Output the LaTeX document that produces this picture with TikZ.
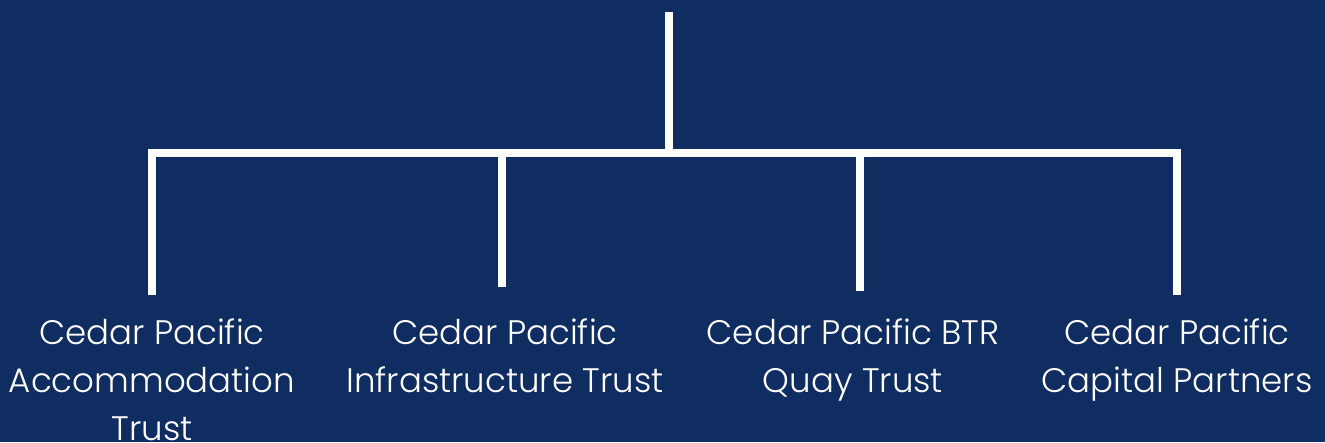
\documentclass[tikz,border=0pt]{standalone}
\usepackage{fontspec}
\setmainfont{Poppins Light}
\definecolor{navy}{HTML}{102D62}
\tikzset{
  trunk/.style={draw=white,line width=7.7pt},
  entity/.style={text=white,align=center,anchor=base,inner sep=0pt,font=\fontsize{34}{48}\selectfont}
}
\begin{document}
\begin{tikzpicture}[x=1pt,y=-1pt]
\fill[navy] (0,0) rectangle (1325,442);
\useasboundingbox (0,0) rectangle (1325,442);
\coordinate (top) at (669,12);
\coordinate (mid) at (669,153);
\coordinate (barL) at (148,153);
\coordinate (barR) at (1181,153);
\draw[trunk] (top)--(mid);
\draw[trunk] (barL)--(barR);
% base anchor sits on the last line
\node[entity] (accom) at (152,440) {Cedar Pacific\\Accommodation\\Trust};
\node[entity] (infra) at (505,392) {Cedar Pacific\\Infrastructure Trust};
\node[entity] (btr) at (853,392) {Cedar Pacific BTR\\Quay Trust};
\node[entity] (capital) at (1177,392) {Cedar Pacific\\Capital Partners};
\coordinate (accomT) at (152,295);
\coordinate (infraT) at (502,287);
\coordinate (btrT) at (860,291);
\coordinate (capitalT) at (1177,295);
\draw[trunk] (152,149)--(accomT);
\draw[trunk] (502,149)--(infraT);
\draw[trunk] (860,149)--(btrT);
\draw[trunk] (1177,149)--(capitalT);
\end{tikzpicture}
\end{document}
